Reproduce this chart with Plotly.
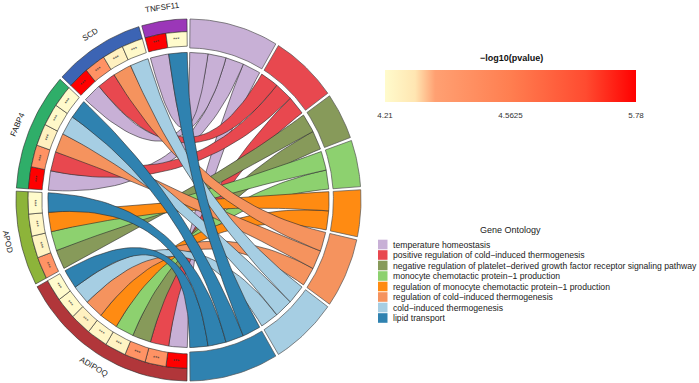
import numpy as np
import plotly.graph_objects as go
from plotly.colors import sample_colorscale

# ---------------- data ----------------
go_terms = [
    "temperature homeostasis",
    "positive regulation of cold\u2212induced thermogenesis",
    "negative regulation of platelet\u2212derived growth factor receptor signaling pathway",
    "monocyte chemotactic protein\u22121 production",
    "regulation of monocyte chemotactic protein\u22121 production",
    "regulation of cold\u2212induced thermogenesis",
    "cold\u2212induced thermogenesis",
    "lipid transport",
]
go_colors = ["#C8B0D6", "#E8484F", "#879A5A", "#8DD16F", "#FF8B12", "#F5935E", "#A6CEE3", "#2F82B0"]
go_neglog10p = [5.78, 4.44, 4.43, 4.24, 4.23, 4.25, 4.22, 4.21]

genes = ["ADIPOQ", "APOD", "FABP4", "SCD", "TNFSF11"]          # clockwise from bottom
gene_colors = ["#B1363A", "#8DB43A", "#2FAE69", "#3C64B4", "#9B37B8"]
# membership[gene][term]
membership = [
    [1, 1, 1, 1, 1, 1, 1, 1],   # ADIPOQ
    [0, 0, 1, 1, 1, 0, 0, 1],   # APOD
    [1, 1, 0, 0, 0, 1, 1, 1],   # FABP4
    [1, 1, 0, 0, 0, 1, 1, 0],   # SCD
    [1, 0, 0, 0, 0, 0, 0, 1],   # TNFSF11
]
cbar_values = [4.21, 4.5625, 5.78]
cbar_labels = ["4.21", "4.5625", "5.78"]
cbar_scale = [[0.0, "#FFFBCC"], [0.12, "#FFE6B2"], [0.2, "#FFA072"], [0.5, "#FF7E50"],
              [0.8, "#FF4B30"], [1.0, "#FF0000"]]

# ---------------- geometry ----------------
W, H = 699, 383
CX, CY, SX, SY = 188.5, 200.0, 172.5, 181.0
BIG_GAP, GAP = 1.0, 1.0
n_links = int(np.sum(membership))
u_go = (180 - BIG_GAP - (len(go_terms) - 1) * GAP) / n_links
u_gene = (180 - BIG_GAP - (len(genes) - 1) * GAP) / n_links
R_RIB = 0.815
R_GO_IN = 0.84
R_CELL_IN, R_CELL_OUT = 0.85, 0.93
FONT = "Liberation Sans, Arial"


def pol(r, th):
    t = np.radians(th)
    return r * np.sin(t), r * np.cos(t)


def arc(r, a0, a1, n=24):
    th = np.linspace(a0, a1, n)
    return list(r * np.sin(np.radians(th))), list(r * np.cos(np.radians(th)))


def bez(p0, p2, n=40):
    t = np.linspace(0, 1, n)
    x = (1 - t) ** 2 * p0[0] + t ** 2 * p2[0]
    y = (1 - t) ** 2 * p0[1] + t ** 2 * p2[1]
    return list(x), list(y)


def sector(r0, r1, a0, a1):
    x1, y1 = arc(r1, a0, a1)
    x0, y0 = arc(r0, a1, a0)
    x = x1 + x0 + [x1[0]]
    y = y1 + y0 + [y1[0]]
    return x, y


# slots on GO side (genes in reverse order inside each term)
go_span, go_slot = [], {}
a = BIG_GAP / 2
for t in range(len(go_terms)):
    s = a
    for g in reversed(range(len(genes))):
        if membership[g][t]:
            go_slot[(g, t)] = (a, a + u_go)
            a += u_go
    go_span.append((s, a))
    a += GAP
gene_span, gene_slot = [], {}
a = 180 + BIG_GAP / 2
for g in range(len(genes)):
    s = a
    for t in range(len(go_terms)):
        if membership[g][t]:
            gene_slot[(g, t)] = (a, a + u_gene)
            a += u_gene
    gene_span.append((s, a))
    a += GAP

fig = go.Figure()
LINE = dict(color="#2a2a2a", width=0.6)

# ribbons
for t in range(len(go_terms)):
    for g in range(len(genes)):
        if not membership[g][t]:
            continue
        s0, s1 = gene_slot[(g, t)]
        t0, t1 = go_slot[(g, t)]
        xa, ya = arc(R_RIB, s0, s1)
        xb, yb = bez(pol(R_RIB, s1), pol(R_RIB, t0))
        xc, yc = arc(R_RIB, t0, t1)
        xd, yd = bez(pol(R_RIB, t1), pol(R_RIB, s0))
        fig.add_trace(go.Scatter(x=xa + xb + xc + xd, y=ya + yb + yc + yd, mode="lines",
                                 fill="toself", fillcolor=go_colors[t], line=LINE,
                                 hoverinfo="skip", showlegend=False))

# GO blocks
for t, (s, e) in enumerate(go_span):
    x, y = sector(R_GO_IN, 1.0, s, e)
    fig.add_trace(go.Scatter(x=x, y=y, mode="lines", fill="toself", fillcolor=go_colors[t],
                             line=dict(color="#555555", width=0.7), hoverinfo="skip", showlegend=False))

# gene blocks
for g, (s, e) in enumerate(gene_span):
    x, y = sector(R_CELL_OUT, 1.0, s, e)
    fig.add_trace(go.Scatter(x=x, y=y, mode="lines", fill="toself", fillcolor=gene_colors[g],
                             line=LINE, hoverinfo="skip", showlegend=False))

# p-value cells
pos_of = lambda v: float(np.interp(v, cbar_values, [0.0, 0.5, 1.0]))
cell_x, cell_y, cell_c = [], [], []
annotations = []


def nice_rot(th):
    rot = th - 360 if th > 180 else th
    if rot < -90:
        rot += 180
    return rot


for (g, t), (s0, s1) in gene_slot.items():
    p = pos_of(go_neglog10p[t])
    col = sample_colorscale(cbar_scale, [p])[0]
    x, y = sector(R_CELL_IN, R_CELL_OUT, s0, s1)
    fig.add_trace(go.Scatter(x=x, y=y, mode="lines", fill="toself", fillcolor=col, line=LINE,
                             hoverinfo="skip", showlegend=False))
    mx, my = pol((R_CELL_IN + R_CELL_OUT) / 2, (s0 + s1) / 2)
    cell_x.append(mx)
    cell_y.append(my)
    cell_c.append(p)
    annotations.append(dict(x=mx, y=my, xref="x", yref="y", text="***", showarrow=False,
                            textangle=nice_rot((s0 + s1) / 2),
                            font=dict(size=5.5, color="#333333", family=FONT)))

# colour scale (carried by invisible markers at cell centres)
fig.add_trace(go.Scatter(
    x=cell_x, y=cell_y, mode="markers", hoverinfo="skip", showlegend=False,
    marker=dict(size=1, opacity=0, color=cell_c, colorscale=cbar_scale, cmin=0, cmax=1,
                showscale=True,
                colorbar=dict(orientation="h", x=385 / W, xanchor="left", y=1 - 70 / H, yanchor="top",
                              len=251, lenmode="pixels", thickness=31.7, thicknessmode="pixels",
                              outlinewidth=0, xpad=0, ypad=0,
                              tickvals=[0, 0.5, 1], ticktext=cbar_labels, ticks="outside",
                              ticklen=7, tickcolor="rgba(0,0,0,0)",
                              tickfont=dict(size=8, color="#333333", family=FONT)))))

# gene labels
for g, (s, e) in enumerate(gene_span):
    m = (s + e) / 2
    lx, ly = pol(1.075, m)
    annotations.append(dict(x=lx, y=ly, xref="x", yref="y", text=genes[g], showarrow=False,
                            textangle=nice_rot(m),
                            font=dict(size=8, color="#222222", family=FONT)))

# colourbar title
annotations.append(dict(x=511 / W, y=1 - 57.5 / H, xref="paper", yref="paper",
                        text="<b>\u2212log10(pvalue)</b>", showarrow=False,
                        xanchor="center", yanchor="middle",
                        font=dict(size=9, color="#111111", family=FONT)))

# GO legend
annotations.append(dict(x=510 / W, y=1 - 229.5 / H, xref="paper", yref="paper", text="Gene Ontology",
                        showarrow=False, xanchor="center", yanchor="middle",
                        font=dict(size=9, color="#222222", family=FONT)))
shapes = []
for i, (name, col) in enumerate(zip(go_terms, go_colors)):
    yc = 244.5 + i * 10.5
    shapes.append(dict(type="rect", xref="paper", yref="paper", x0=378 / W, x1=387.5 / W,
                       y0=1 - (yc - 4.8) / H, y1=1 - (yc + 4.8) / H, fillcolor=col, line=dict(width=0)))
    annotations.append(dict(x=390.5 / W, y=1 - yc / H, xref="paper", yref="paper", text=name,
                            showarrow=False, xanchor="left", yanchor="middle",
                            font=dict(size=8.65, color="#222222", family=FONT)))

fig.update_layout(
    width=W, height=H, margin=dict(l=0, r=0, t=0, b=0, autoexpand=False),
    paper_bgcolor="white", plot_bgcolor="white",
    xaxis=dict(range=[-CX / SX, (W - CX) / SX], visible=False, fixedrange=True),
    yaxis=dict(range=[-(H - CY) / SY, CY / SY], visible=False, fixedrange=True),
    annotations=annotations, shapes=shapes, showlegend=False,
)
fig.write_html("out.html", config={"displayModeBar": False},
               post_script="document.body.style.margin='0';document.body.style.overflow='hidden';")
